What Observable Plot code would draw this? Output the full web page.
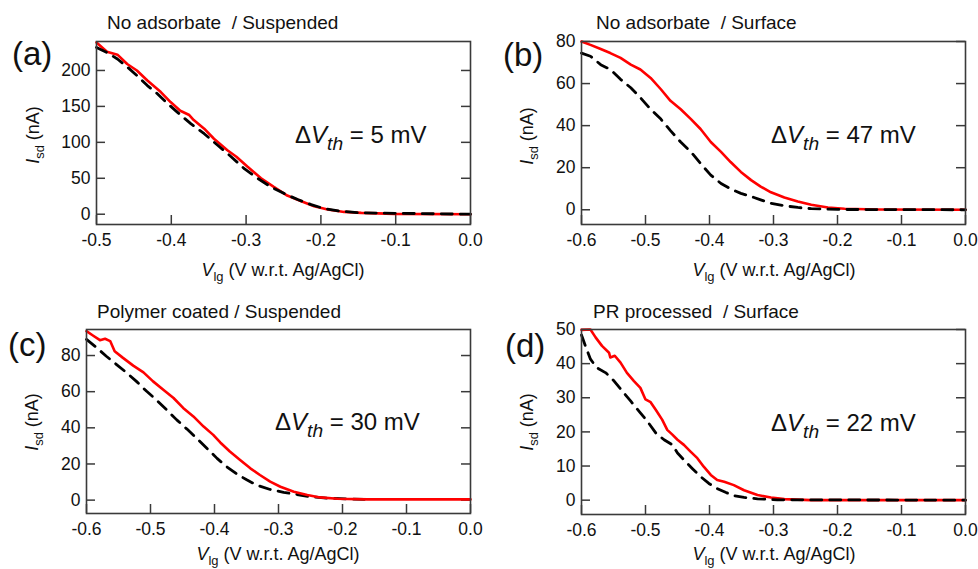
<!DOCTYPE html>
<html><head><meta charset="utf-8">
<script src="https://cdn.jsdelivr.net/npm/d3@7"></script>
<script src="https://cdn.jsdelivr.net/npm/@observablehq/plot@0.6"></script>
<style>
html,body{margin:0;padding:0;background:#fff;}
#root{position:relative;width:978px;height:569px;overflow:hidden;font-family:"Liberation Sans",Arial,sans-serif;}
.panel{position:absolute;}
#overlay{position:absolute;left:0;top:0;pointer-events:none;}
</style></head><body><div id="root"></div>
<script>
// ---------------- data ----------------
// (a) No adsorbate / Suspended
const aRedV = [-0.5,-0.486,-0.472,-0.459,-0.446,-0.432,-0.414,-0.401,-0.388,-0.376,-0.37,-0.356,-0.343,-0.325,-0.313,-0.298,-0.28,-0.263,-0.245,-0.227,-0.209,-0.191,-0.169,-0.146,-0.102,0];
const aRedI = [239,226,222,209,200,186,170,156,144,138,131,119,105,89,80,66,50,38,26,18.5,11,6.5,3.2,1.9,0.5,0];
const aBlkV = [-0.5,-0.486,-0.472,-0.459,-0.446,-0.432,-0.419,-0.405,-0.392,-0.374,-0.356,-0.338,-0.32,-0.302,-0.284,-0.267,-0.249,-0.231,-0.213,-0.196,-0.173,-0.146,0];
const aBlkI = [232,225,216,205,193,179,168,154,142,126,112,96,80,63,49.5,38,28.7,20.4,13.4,7.9,4.2,1.9,0];
// (b) No adsorbate / Surface
const bRedV = [-0.6,-0.586,-0.57,-0.555,-0.539,-0.523,-0.508,-0.492,-0.476,-0.461,-0.445,-0.429,-0.414,-0.398,-0.382,-0.367,-0.351,-0.335,-0.32,-0.304,-0.283,-0.262,-0.241,-0.215,-0.189,-0.137,0];
const bRedI = [80,78.4,76.4,74.5,72.2,69,66.7,62.7,57.3,51.8,47.8,43.1,38.4,32.2,27.5,22.7,18,14.1,11,8.3,5.8,3.9,2.35,1.1,0.5,0.15,0];
const bBlkV = [-0.6,-0.586,-0.57,-0.555,-0.539,-0.523,-0.508,-0.492,-0.476,-0.461,-0.445,-0.429,-0.414,-0.398,-0.382,-0.367,-0.351,-0.335,-0.32,-0.304,-0.283,-0.262,-0.241,-0.2,0];
const bBlkI = [74.5,73,69,66.7,62,58,53.3,47.8,43.1,37.6,32.2,27.5,22,16.5,12.5,9.9,7.8,6.3,4.7,3.1,1.9,1.1,0.5,0.15,0];
// (c) Polymer coated / Suspended
const cRedV = [-0.6,-0.59,-0.579,-0.571,-0.563,-0.556,-0.543,-0.527,-0.511,-0.496,-0.48,-0.464,-0.449,-0.433,-0.417,-0.402,-0.391,-0.376,-0.36,-0.344,-0.329,-0.313,-0.297,-0.276,-0.255,-0.235,-0.208,-0.161,0];
const cRedI = [93.5,91.1,88.5,89.3,88,82.4,78.7,74.4,70.7,65.7,61.1,56.5,51,46.3,40.7,36.1,31.9,26.9,22.2,17.6,13.9,10.2,7.4,4.6,2.8,1.5,0.74,0.4,0.4];
const cBlkV = [-0.6,-0.584,-0.569,-0.553,-0.537,-0.522,-0.506,-0.49,-0.475,-0.459,-0.443,-0.428,-0.412,-0.396,-0.381,-0.365,-0.349,-0.334,-0.313,-0.292,-0.271,-0.25,-0.224,-0.188,-0.16];
const cBlkI = [88.9,84.3,79.6,75,70.4,65.7,60.2,55.2,50,44.4,39.3,34.3,28.7,23.1,18.5,14.4,11.1,8.3,5.9,4.3,3.1,1.85,1.1,0.55,0.4];
// (d) PR processed / Surface
const dRedV = [-0.6,-0.586,-0.578,-0.568,-0.557,-0.555,-0.548,-0.539,-0.529,-0.518,-0.508,-0.5,-0.492,-0.484,-0.474,-0.466,-0.458,-0.45,-0.44,-0.43,-0.419,-0.409,-0.398,-0.388,-0.377,-0.362,-0.346,-0.325,-0.304,-0.283,-0.242,0];
const dRedI = [49.9,50,47.7,45.2,43.2,41.8,42.3,40.3,37.3,34.9,32.9,29.5,28.7,26.5,23.6,20.6,19.2,17.7,16.2,14.3,12.3,9.8,7.4,5.9,5.4,4.4,2.9,1.5,0.8,0.3,0,0];
const dBlkV = [-0.6,-0.594,-0.586,-0.576,-0.562,-0.549,-0.536,-0.523,-0.51,-0.497,-0.484,-0.471,-0.458,-0.45,-0.44,-0.427,-0.414,-0.401,-0.388,-0.375,-0.362,-0.346,-0.325,-0.294,0];
const dBlkI = [48.4,45.2,41.3,38.8,37.3,34.9,31.9,29,26,23.1,19.7,17.7,16.2,13.8,11.8,9.3,6.9,4.9,3.4,2.3,1.3,0.8,0.4,0.1,0];

// tick values
const xTicksA = [-0.5,-0.4,-0.3,-0.2,-0.1,0.0];
const xTicks6 = [-0.6,-0.5,-0.4,-0.3,-0.2,-0.1,0.0];
const yTicksA = [0,50,100,150,200];
const yTicksB = [0,20,40,60,80];
const yTicksC = [0,20,40,60,80];
const yTicksD = [0,10,20,30,40,50];

// texts
const titles = ["No adsorbate  / Suspended","No adsorbate  / Surface","Polymer coated / Suspended","PR processed  / Surface"];
const letters = ["(a)","(b)","(c)","(d)"];
const deltas = ["5","47","30","22"];

// ---------------- build ----------------
const pairs = (V, I) => V.map((v, i) => ({V: v, I: I[i]}));
const panels = [
  {left:0,   top:0,   w:489, h:285, mL:96, mR:19, mT:41, mB:61, xDom:[-0.5,0], yDom:[-14.3,240.3], xt:xTicksA, yt:yTicksA, red:pairs(aRedV,aRedI), blk:pairs(aBlkV,aBlkI), redTop:false},
  {left:489, top:0,   w:489, h:285, mL:92, mR:13, mT:41, mB:61, xDom:[-0.6,0], yDom:[-7,80],        xt:xTicks6, yt:yTicksB, red:pairs(bRedV,bRedI), blk:pairs(bBlkV,bBlkI), redTop:false},
  {left:0,   top:285, w:489, h:284, mL:86, mR:19, mT:44, mB:56, xDom:[-0.6,0], yDom:[-7.4,94.4],    xt:xTicks6, yt:yTicksC, red:pairs(cRedV,cRedI), blk:pairs(cBlkV,cBlkI), redTop:true},
  {left:489, top:285, w:489, h:284, mL:92, mR:13, mT:44, mB:55, xDom:[-0.6,0], yDom:[-4.2,50],      xt:xTicks6, yt:yTicksD, red:pairs(dRedV,dRedI), blk:pairs(dBlkV,dBlkI), redTop:false}
];

const root = document.getElementById("root");
const axisColor = "#3a3a3a";
panels.forEach(p => {
  const fw = p.w - p.mL - p.mR, fh = p.h - p.mT - p.mB, tl = 9;
  const redLine = Plot.line(p.red, {x:"V", y:"I", stroke:"#ff0000", strokeWidth:2.6});
  const blkLine = Plot.line(p.blk, {x:"V", y:"I", stroke:"#000", strokeWidth:2.8, strokeDasharray:"11,8"});
  const chart = Plot.plot({
    width:p.w, height:p.h,
    marginLeft:p.mL, marginRight:p.mR, marginTop:p.mT, marginBottom:p.mB,
    x:{domain:p.xDom, label:null},
    y:{domain:p.yDom, label:null},
    style:{fontFamily:'"Liberation Sans", Arial, sans-serif', fontSize:"17.5px", color:"#111", background:"transparent", overflow:"visible"},
    marks:[
      Plot.axisX(p.xt, {tickSize:0, tickPadding:9, tickFormat:d=>d.toFixed(1), label:null}),
      Plot.axisY(p.yt, {tickSize:0, tickPadding:6, tickFormat:d=>String(d), label:null}),
      Plot.tickX(p.xt, {x:d=>d, insetTop:fh - tl, stroke:axisColor, strokeWidth:1.5}),
      Plot.tickY(p.yt, {y:d=>d, insetRight:fw - tl, stroke:axisColor, strokeWidth:1.5}),
      Plot.tickY(p.yt, {y:d=>d, insetLeft:fw - tl, stroke:axisColor, strokeWidth:1.5}),
      ...(p.redTop ? [blkLine, redLine] : [redLine, blkLine]),
      Plot.frame({stroke:axisColor, strokeWidth:1.6})
    ]
  });
  const div = document.createElement("div");
  div.className = "panel";
  div.style.left = p.left + "px";
  div.style.top = p.top + "px";
  div.appendChild(chart);
  root.appendChild(div);
});

// ---------------- overlay texts ----------------
const svg = d3.select("#root").append("svg").attr("id","overlay")
  .attr("width",978).attr("height",569)
  .style("font-family",'"Liberation Sans", Arial, sans-serif')
  .attr("fill","#111");

function rich(x, y, size, parts, {anchor="start", rotate=0} = {}) {
  const t = svg.append("text").attr("x",x).attr("y",y).attr("font-size",size)
    .attr("text-anchor",anchor).style("white-space","pre");
  if (rotate) t.attr("transform",`rotate(${rotate},${x},${y})`);
  let shift = 0;
  parts.forEach(([s, kind]) => {
    const ts = t.append("tspan").text(s);
    const sub = kind.includes("sub");
    if (kind.includes("i")) ts.attr("font-style","italic");
    const target = sub ? size*0.3 : 0;
    if (target !== shift) { ts.attr("dy", target - shift); shift = target; }
    if (sub) ts.attr("font-size", size*(kind.includes("big") ? 0.8 : 0.72));
  });
  return t;
}

const tPos = [[107,29],[596,29],[97,318],[593,318]];
const lPos = [[12,65],[503,66],[8,356],[505,357]];
const dPos = [[295,143],[771,143],[275,430],[771,431]];
const yPos = [[39,135],[533,136],[38,422],[533,422]];
const xPos = [[283,276],[774,276],[278,560],[774,560]];

for (let k = 0; k < 4; k++) {
  rich(tPos[k][0], tPos[k][1], 19, [[titles[k],"n"]]);
  rich(lPos[k][0], lPos[k][1], 33, [[letters[k],"n"]]);
  rich(dPos[k][0], dPos[k][1], 24, [["\u0394","n"],["V","i"],["th","i sub big"],[" = " + deltas[k] + " mV","n"]]);
  rich(yPos[k][0], yPos[k][1], 18, [["I","i"],["sd","sub"],[" (nA)","n"]], {anchor:"middle", rotate:-90});
  rich(xPos[k][0], xPos[k][1], 18, [["V","i"],["lg","sub"],[" (V w.r.t. Ag/AgCl)","n"]], {anchor:"middle"});
}
</script></body></html>
